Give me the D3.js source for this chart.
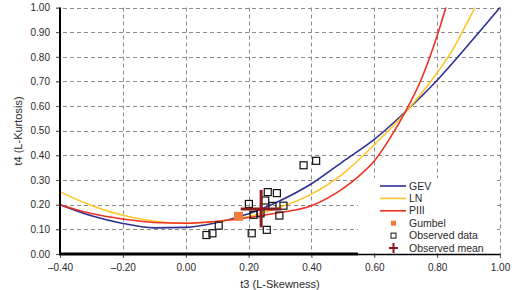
<!DOCTYPE html>
<html>
<head>
<meta charset="utf-8">
<script src="https://cdn.jsdelivr.net/npm/d3@7"></script>
<style>
  body { margin: 0; background: #fff; }
  text { font-family: "Liberation Sans", Arial, sans-serif; }
</style>
</head>
<body>
<div id="chart"></div>
<script>
// axis ticks
const t3Ticks = [-0.4, -0.2, 0, 0.2, 0.4, 0.6, 0.8, 1.0];
const t4Ticks = [0, 0.1, 0.2, 0.3, 0.4, 0.5, 0.6, 0.7, 0.8, 0.9, 1.0];

// theoretical curves
const gevT3 = [-0.4, -0.3, -0.2, -0.1, 0, 0.1, 0.2, 0.3, 0.4, 0.5, 0.6, 0.7, 0.8, 0.9, 1.0];
const gevT4 = [0.20, 0.155, 0.124, 0.106, 0.108, 0.128, 0.163, 0.216, 0.285, 0.375, 0.465, 0.578, 0.705, 0.85, 1.0];

const lnT3 = [-0.4, -0.3, -0.2, -0.1, 0, 0.1, 0.2, 0.3, 0.4, 0.5, 0.6, 0.7, 0.8, 0.85, 0.9, 0.92];
const lnT4 = [0.252, 0.197, 0.157, 0.133, 0.125, 0.131, 0.152, 0.19, 0.243, 0.325, 0.443, 0.575, 0.735, 0.83, 0.95, 1.0];

const p3T3 = [-0.4, -0.3, -0.2, -0.1, 0, 0.1, 0.2, 0.3, 0.4, 0.5, 0.55, 0.6, 0.65, 0.7, 0.75, 0.8, 0.828];
const p3T4 = [0.20, 0.164, 0.142, 0.128, 0.125, 0.133, 0.148, 0.168, 0.196, 0.265, 0.315, 0.377, 0.47, 0.58, 0.71, 0.885, 1.0];

// observed sample L-moment ratios
const obsT3 = [0.066, 0.085, 0.105, 0.21, 0.258, 0.201, 0.216, 0.238, 0.253, 0.261, 0.276, 0.29, 0.298, 0.311, 0.375, 0.415];
const obsT4 = [0.077, 0.084, 0.115, 0.084, 0.098, 0.203, 0.159, 0.165, 0.217, 0.251, 0.195, 0.247, 0.156, 0.196, 0.36, 0.378];

const gumbelPt = [0.168, 0.153];
const meanPt = [0.240, 0.183];
const meanT3Span = [0.175, 0.304];
const meanT4Span = [0.108, 0.260];

const legendNames = ["GEV", "LN", "PIII", "Gumbel", "Observed data", "Observed mean"];

const width = 519, height = 290;
const svg = d3.select("#chart").append("svg").attr("width", width).attr("height", height);

const x = d3.scaleLinear().domain([-0.4, 1.0]).range([60, 500]);
const y = d3.scaleLinear().domain([0, 1]).range([254, 7.5]);

const fmt = v => d3.format(".2f")(v).replace("−", "–").replace("-", "–");

// grid
const grid = svg.append("g").attr("stroke", "#8c8c8c").attr("stroke-dasharray", "4,3").attr("stroke-width", 1);
grid.selectAll("line.h").data(t4Ticks.filter(d => d > 0)).join("line")
  .attr("x1", 56).attr("x2", x(1.0))
  .attr("y1", d => Math.round(y(d)) + 0.5).attr("y2", d => Math.round(y(d)) + 0.5);
grid.selectAll("line.v").data(t3Ticks.filter(d => d > -0.4)).join("line")
  .attr("x1", d => Math.round(x(d)) + 0.5).attr("x2", d => Math.round(x(d)) + 0.5)
  .attr("y1", y(1.0)).attr("y2", 258);

// curves
const line = d3.line().x(d => x(d[0])).y(d => y(d[1])).curve(d3.curveMonotoneX);
const curves = [
  { name: "GEV", color: "#2e3192", pts: d3.zip(gevT3, gevT4) },
  { name: "LN", color: "#ffc629", pts: d3.zip(lnT3, lnT4) },
  { name: "PIII", color: "#ee3124", pts: d3.zip(p3T3, p3T4) }
];
svg.append("g").selectAll("path").data(curves).join("path")
  .attr("d", d => line(d.pts))
  .attr("fill", "none")
  .attr("stroke", d => d.color)
  .attr("stroke-width", 1.6);

// legend background
svg.append("rect").attr("x", 358).attr("y", 178).attr("width", 139).attr("height", 75).attr("fill", "#fff");

// observed points
svg.append("g").selectAll("rect").data(d3.zip(obsT3, obsT4)).join("rect")
  .attr("x", d => x(d[0]) - 3.5).attr("y", d => y(d[1]) - 3.5)
  .attr("width", 7).attr("height", 7)
  .attr("fill", "none").attr("stroke", "#111").attr("stroke-width", 1.2);

// gumbel
svg.append("rect")
  .attr("x", x(gumbelPt[0]) - 4.5).attr("y", y(gumbelPt[1]) - 4.5)
  .attr("width", 9).attr("height", 9).attr("fill", "#f07a3a");

// observed mean
const mean = svg.append("g").attr("stroke", "#8b1a1f").attr("stroke-width", 3);
mean.append("line").attr("x1", x(meanT3Span[0])).attr("x2", x(meanT3Span[1]))
  .attr("y1", y(meanPt[1])).attr("y2", y(meanPt[1]));
mean.append("line").attr("x1", x(meanPt[0])).attr("x2", x(meanPt[0]))
  .attr("y1", y(meanT4Span[0])).attr("y2", y(meanT4Span[1]));

// axes
const yAxis = svg.append("g").attr("transform", "translate(60,0)")
  .call(d3.axisLeft(y).tickValues(t4Ticks).tickFormat(fmt).tickSize(4).tickPadding(6));
const xAxis = svg.append("g").attr("transform", "translate(0,254)")
  .call(d3.axisBottom(x).tickValues(t3Ticks).tickFormat(fmt).tickSize(4).tickPadding(6));
[yAxis, xAxis].forEach(a => {
  a.select(".domain").remove();
  a.selectAll(".tick line").attr("stroke", "#555");
  a.selectAll("text").attr("font-size", 10).attr("fill", "#2a2a2a");
});
svg.append("line").attr("x1", 60).attr("x2", 60).attr("y1", y(1.0)).attr("y2", 255)
  .attr("stroke", "#000").attr("stroke-width", 2);
svg.append("line").attr("x1", 59).attr("x2", 358).attr("y1", 254).attr("y2", 254)
  .attr("stroke", "#000").attr("stroke-width", 3);
svg.append("line").attr("x1", 358).attr("x2", 500).attr("y1", 254.5).attr("y2", 254.5)
  .attr("stroke", "#000").attr("stroke-width", 1.5);

// axis titles
svg.append("text").attr("x", 280).attr("y", 288).attr("text-anchor", "middle")
  .attr("font-size", 11).attr("fill", "#2a2a2a").text("t3 (L-Skewness)");
svg.append("text").attr("transform", "translate(22,131) rotate(-90)").attr("text-anchor", "middle")
  .attr("font-size", 11).attr("fill", "#2a2a2a").text("t4 (L-Kurtosis)");

// legend
const leg = svg.append("g");
const ly = i => 186 + i * 12.4;
legendNames.forEach((name, i) => {
  const yy = ly(i);
  if (i < 3) {
    leg.append("line").attr("x1", 380).attr("x2", 406).attr("y1", yy).attr("y2", yy)
      .attr("stroke", curves[i].color).attr("stroke-width", 1.6);
  } else if (i === 3) {
    leg.append("rect").attr("x", 391).attr("y", yy - 2.5).attr("width", 5).attr("height", 5).attr("fill", "#f07a3a");
  } else if (i === 4) {
    leg.append("rect").attr("x", 391).attr("y", yy - 2.5).attr("width", 5).attr("height", 5)
      .attr("fill", "none").attr("stroke", "#111").attr("stroke-width", 1);
  } else {
    leg.append("path").attr("d", `M389,${yy}H398M393.5,${yy - 5}V${yy + 5}`)
      .attr("stroke", "#8b1a1f").attr("stroke-width", 2);
  }
  leg.append("text").attr("x", 409).attr("y", yy).attr("dy", "0.35em")
    .attr("font-size", 10.5).attr("fill", "#2a2a2a").text(name);
});
</script>
</body>
</html>
